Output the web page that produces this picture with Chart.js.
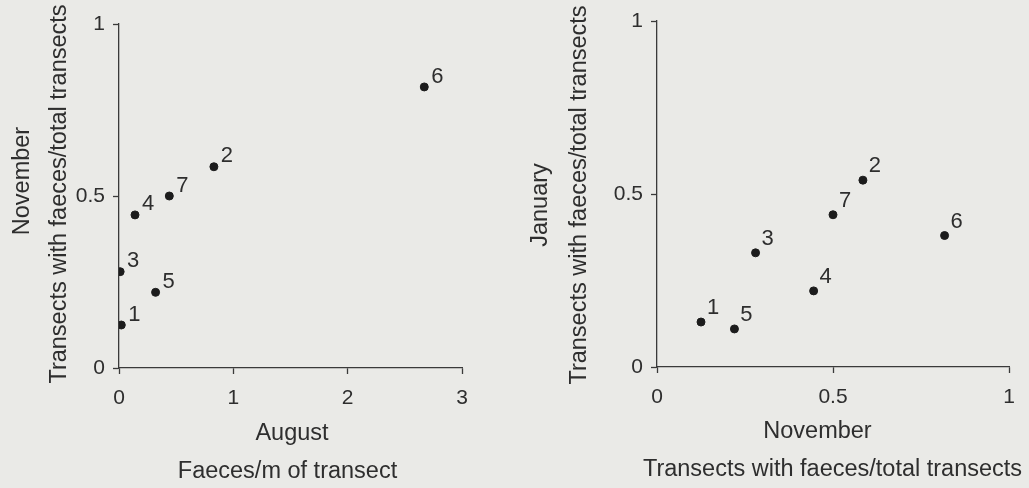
<!DOCTYPE html>
<html>
<head>
<meta charset="utf-8">
<script src="https://cdn.jsdelivr.net/npm/chart.js@4.4.1/dist/chart.umd.min.js"></script>
<style>
  html, body { margin: 0; padding: 0; background: #eaeae7; }
  #wrap { position: relative; width: 1029px; height: 488px; overflow: hidden; }
  .panel { position: absolute; top: 0; height: 488px; }
  #left { left: 0; width: 515px; }
  #right { left: 515px; width: 514px; }
</style>
</head>
<body>
<div id="wrap">
  <div class="panel" id="left"><canvas id="c1"></canvas></div>
  <div class="panel" id="right"><canvas id="c2"></canvas></div>
</div>
<script>
// Site numbers and their measurements
const sites = ['1', '2', '3', '4', '5', '6', '7'];
const august = [0.02, 0.83, 0.01, 0.14, 0.32, 2.67, 0.44];      // faeces per m of transect
const november = [0.125, 0.585, 0.28, 0.445, 0.22, 0.817, 0.5]; // transects with faeces / total
const january = [0.13, 0.54, 0.33, 0.22, 0.11, 0.38, 0.44];     // transects with faeces / total

const augustTicks = [0, 1, 2, 3];
const fractionTicks = [0, 0.5, 1];

const INK = '#2e2e2e';
const FONT = '"Liberation Sans", Arial, sans-serif';

// Writes the site number beside each point
const siteLabels = {
  id: 'siteLabels',
  afterDatasetsDraw(chart, args, opts) {
    const ctx = chart.ctx;
    const meta = chart.getDatasetMeta(0);
    ctx.save();
    ctx.fillStyle = INK;
    ctx.font = '22px ' + FONT;
    ctx.textAlign = 'center';
    ctx.textBaseline = 'middle';
    meta.data.forEach((pt, i) => {
      ctx.fillText(sites[i], pt.x + opts.dx, pt.y + opts.dy);
    });
    ctx.restore();
  }
};

// Two-line axis titles placed relative to the plot area
const axisTitles = {
  id: 'axisTitles',
  afterDraw(chart, args, opts) {
    const ctx = chart.ctx;
    const a = chart.chartArea;
    ctx.save();
    ctx.fillStyle = INK;
    ctx.font = '23.5px ' + FONT;
    ctx.textAlign = 'center';
    ctx.textBaseline = 'middle';
    opts.x.forEach(t => ctx.fillText(t.text, a.left + t.dx, a.bottom + t.dy));
    opts.y.forEach(t => {
      ctx.save();
      ctx.translate(a.left + t.dx, a.top + t.dy);
      ctx.rotate(-Math.PI / 2);
      ctx.fillText(t.text, 0, 0);
      ctx.restore();
    });
    ctx.restore();
  }
};

function axis(min, max, ticks, fitSize, pad) {
  return {
    type: 'linear',
    min: min,
    max: max,
    afterBuildTicks: s => { s.ticks = ticks.map(v => ({ value: v })); },
    afterFit: s => {
      if (s.isHorizontal()) s.height = fitSize; else s.width = fitSize;
    },
    ticks: {
      color: INK,
      font: { family: FONT, size: 21 },
      padding: pad,
      callback: v => String(v)
    },
    grid: {
      drawOnChartArea: false,
      drawTicks: true,
      tickLength: 6,
      tickWidth: 1.3,
      tickColor: '#3a3a3a'
    },
    border: { display: true, color: '#3a3a3a', width: 1.3 }
  };
}

function makeChart(id, xs, ys, cfg) {
  const pts = xs.map((x, i) => ({ x: x, y: ys[i] }));
  return new Chart(document.getElementById(id), {
    type: 'scatter',
    data: {
      datasets: [{
        data: pts,
        backgroundColor: '#1c1c1c',
        borderColor: '#1c1c1c',
        pointRadius: 4,
        pointHoverRadius: 4
      }]
    },
    options: {
      responsive: true,
      maintainAspectRatio: false,
      animation: false,
      events: [],
      layout: { padding: cfg.padding },
      scales: {
        x: axis(cfg.xMin, cfg.xMax, cfg.xTicks, cfg.xFit, 12),
        y: axis(0, 1, fractionTicks, cfg.yFit, 8)
      },
      plugins: {
        legend: { display: false },
        tooltip: { enabled: false },
        siteLabels: cfg.labelOffset,
        axisTitles: cfg.titles
      }
    },
    plugins: [siteLabels, axisTitles]
  });
}

// November against August
makeChart('c1', august, november, {
  xMin: 0, xMax: 3, xTicks: augustTicks,
  xFit: 120, yFit: 119,
  padding: { top: 24, right: 53, left: 0, bottom: 0 },
  labelOffset: { dx: 13, dy: -10.5 },
  titles: {
    x: [
      { text: 'August', dx: 173, dy: 66 },
      { text: 'Faeces/m of transect', dx: 168.5, dy: 104 }
    ],
    y: [
      { text: 'November', dx: -96, dy: 157 },
      { text: 'Transects with faeces/total transects', dx: -59, dy: 170 }
    ]
  }
});

// January against November
makeChart('c2', november, january, {
  xMin: 0, xMax: 1, xTicks: fractionTicks,
  xFit: 121, yFit: 142,
  padding: { top: 21, right: 20, left: 0, bottom: 0 },
  labelOffset: { dx: 12, dy: -14 },
  titles: {
    x: [
      { text: 'November', dx: 160.5, dy: 65 },
      { text: 'Transects with faeces/total transects', dx: 175.5, dy: 103 }
    ],
    y: [
      { text: 'January', dx: -116, dy: 184 },
      { text: 'Transects with faeces/total transects', dx: -77, dy: 174 }
    ]
  }
});
</script>
</body>
</html>
